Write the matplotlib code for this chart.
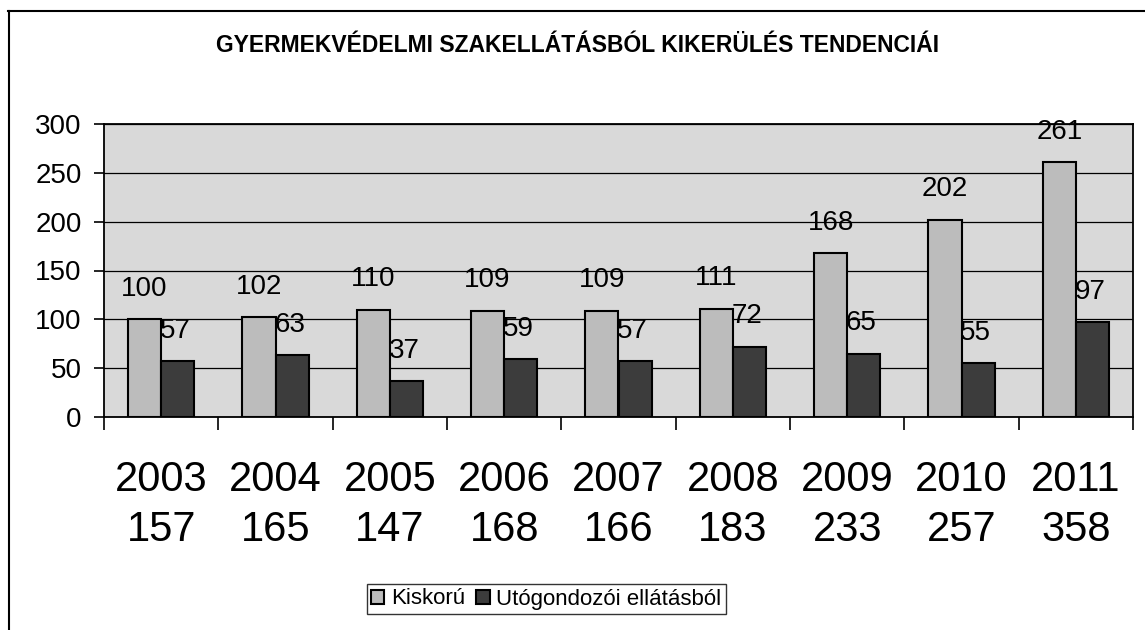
import matplotlib.pyplot as plt
import numpy as np

years = ["2003", "2004", "2005", "2006", "2007", "2008", "2009", "2010", "2011"]
totals = [157, 165, 147, 168, 166, 183, 233, 257, 358]
kiskoru = [100, 102, 110, 109, 109, 111, 168, 202, 261]
utogondozoi = [57, 63, 37, 59, 57, 72, 65, 55, 97]

plt.rcParams['font.family'] = ['Liberation Sans', 'DejaVu Sans']

fig = plt.figure(figsize=(11.45, 6.3), dpi=100)
ax = fig.add_axes([104/1145, 1-417/630, (1133-104)/1145, (417-124)/630])

x = np.arange(len(years))
w = 0.29
b1 = ax.bar(x - w/2, kiskoru, w, color="#bcbcbc", edgecolor="black", linewidth=1.5, label="Kiskorú", zorder=3)
b2 = ax.bar(x + w/2, utogondozoi, w, color="#3c3c3c", edgecolor="black", linewidth=1.5, label="Utógondozói ellátásból", zorder=3)

# value labels above each bar
for i in range(len(years)):
    ax.text(x[i] - w/2, kiskoru[i] + 31, str(kiskoru[i]), ha="center", va="center", fontsize=20, zorder=4)
    ax.text(x[i] + w/2 - 0.02, utogondozoi[i] + 31, str(utogondozoi[i]), ha="center", va="center", fontsize=20, zorder=4)

ax.set_facecolor("#d9d9d9")
ax.set_xlim(-0.5, len(years) - 0.5)
ax.set_ylim(0, 300)
ax.set_yticks(range(0, 301, 50))
ax.tick_params(axis="y", labelsize=20, length=7, width=1.2, direction="out", pad=9)
ax.yaxis.grid(True, color="black", linewidth=0.9, zorder=1)
ax.set_axisbelow(True)

ax.set_xticks(np.arange(len(years) + 1) - 0.5)
ax.set_xticklabels([])
ax.tick_params(axis="x", length=9, width=1.2, direction="out")
ax.set_xticks(x, minor=True)
ax.set_xticklabels([y + "\n" + str(t) for y, t in zip(years, totals)], minor=True, fontsize=30, linespacing=1.33)
ax.tick_params(axis="x", which="minor", length=0, pad=31)

for s in ax.spines.values():
    s.set_linewidth(1.3)

fig.text(0.504, 1-45/630, "GYERMEKVÉDELMI SZAKELLÁTÁSBÓL KIKERÜLÉS TENDENCIÁI",
         ha="center", va="center", fontsize=16.5, fontweight="bold")

leg = fig.legend(handles=[b1, b2], loc="center", bbox_to_anchor=(0.477, 1-599/630), ncol=2,
                 fontsize=16, frameon=True, fancybox=False, edgecolor="black",
                 handlelength=0.6, handleheight=0.6, handletextpad=0.3, columnspacing=0.5,
                 borderpad=0.2)
leg.get_frame().set_linewidth(1.0)

# outer frame of the chart (top and left visible)
fig.add_artist(plt.Line2D([8/1145, 1], [1-11/630, 1-11/630], color="black", linewidth=1.5))
fig.add_artist(plt.Line2D([9/1145, 9/1145], [0, 1-11/630], color="black", linewidth=1.5))

fig.savefig("out.png", dpi=100)
